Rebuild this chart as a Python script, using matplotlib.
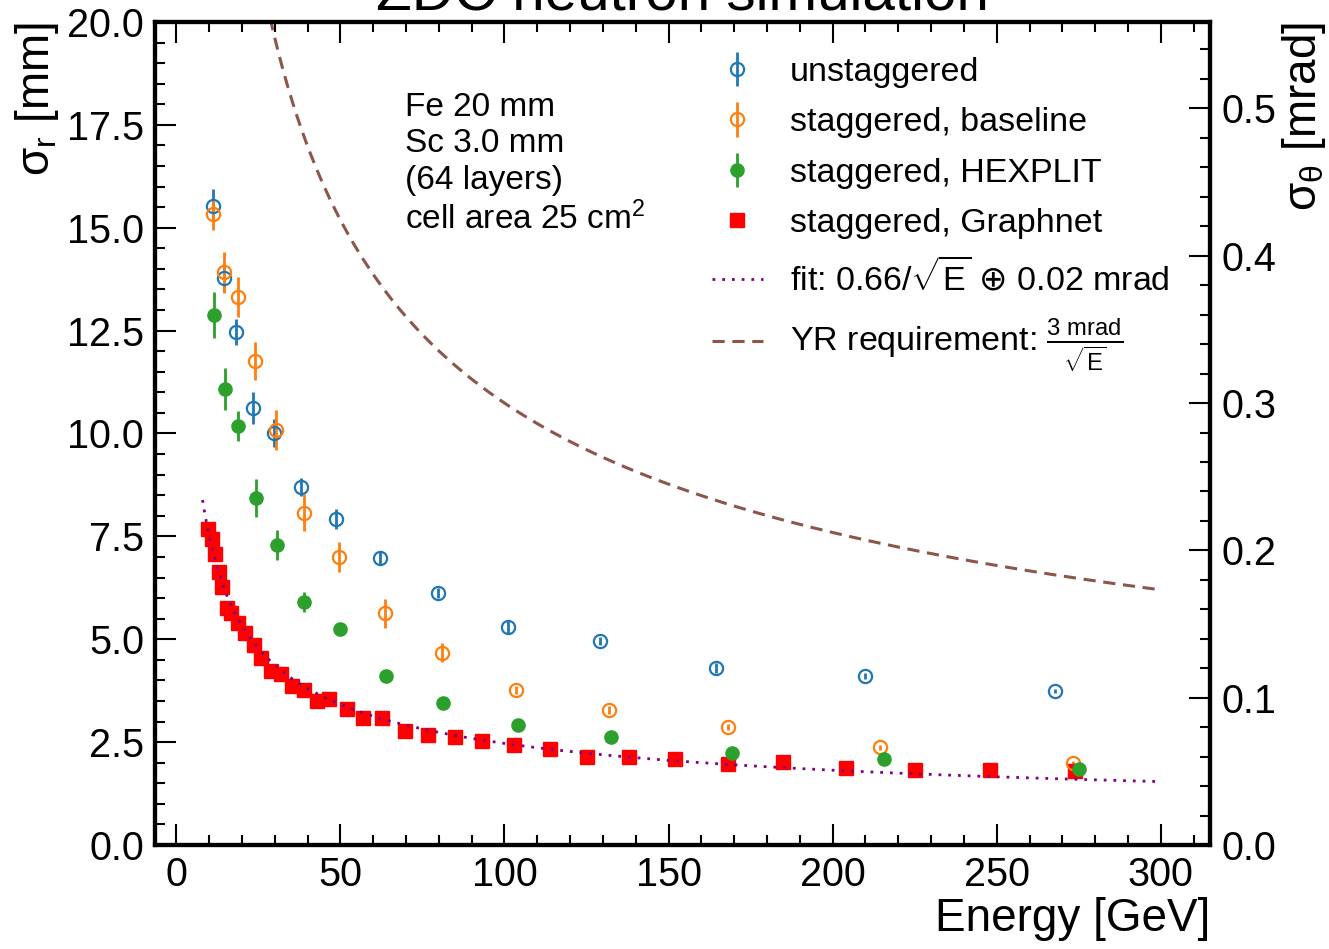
import matplotlib
matplotlib.use("Agg")
import matplotlib.pyplot as plt
from matplotlib.ticker import MultipleLocator
import numpy as np

plt.rcParams['font.family'] = ['Liberation Sans', 'DejaVu Sans']
plt.rcParams['mathtext.fontset'] = 'custom'
plt.rcParams['mathtext.rm'] = 'Liberation Sans'
plt.rcParams['mathtext.it'] = 'Liberation Sans:italic'
plt.rcParams['mathtext.bf'] = 'Liberation Sans:bold'
plt.rcParams['mathtext.sf'] = 'DejaVu Sans'

# distance used to convert sigma_r [mm] -> sigma_theta [mrad]
dist_m = 35.8

# unstaggered
E_unst = [11.3, 14.6, 18.3, 23.5, 29.9, 38.1, 48.8, 62.2, 79.6, 101.2, 129.0, 164.6, 209.8, 267.7]
r_unst = [15.53, 13.78, 12.47, 10.62, 10.01, 8.70, 7.92, 6.97, 6.12, 5.30, 4.96, 4.30, 4.11, 3.74]
e_unst = [0.40, 0.34, 0.32, 0.40, 0.34, 0.22, 0.25, 0.15, 0.12, 0.14, 0.10, 0.12, 0.08, 0.05]

# staggered, baseline
E_base = [11.3, 14.6, 18.9, 24.1, 30.5, 39.0, 49.7, 63.7, 81.1, 103.4, 131.7, 168.0, 214.3, 273.2]
r_base = [15.33, 13.92, 13.32, 11.76, 10.08, 8.07, 7.00, 5.63, 4.67, 3.77, 3.28, 2.87, 2.38, 2.00]
e_base = [0.38, 0.50, 0.49, 0.47, 0.49, 0.45, 0.36, 0.36, 0.23, 0.10, 0.10, 0.08, 0.06, 0.05]

# staggered, HEXPLIT
E_hex = [11.6, 14.9, 18.9, 24.4, 30.8, 39.0, 50.0, 64.0, 81.4, 104.0, 132.6, 169.2, 215.6, 275.0]
r_hex = [12.88, 11.08, 10.18, 8.43, 7.29, 5.91, 5.25, 4.11, 3.45, 2.92, 2.62, 2.23, 2.09, 1.85]
e_hex = [0.55, 0.50, 0.37, 0.47, 0.36, 0.25, 0.12, 0.12, 0.08, 0.06, 0.05, 0.05, 0.04, 0.04]

# staggered, Graphnet
E_gn = [9.8, 11.0, 11.9, 12.9, 14.0, 15.5, 16.8, 18.9, 21.0, 23.8, 25.9, 28.9, 32.0, 35.4,
        38.8, 42.9, 46.6, 52.0, 56.8, 62.8, 69.8, 76.8, 84.8, 93.0, 102.8, 113.8, 125.0,
        138.0, 152.0, 168.0, 185.0, 204.0, 225.0, 247.9, 274.0]
r_gn = [7.68, 7.43, 7.07, 6.64, 6.27, 5.76, 5.63, 5.40, 5.15, 4.86, 4.54, 4.24, 4.15, 3.87,
        3.77, 3.50, 3.55, 3.30, 3.09, 3.09, 2.77, 2.67, 2.63, 2.53, 2.43, 2.33, 2.14,
        2.13, 2.09, 1.97, 2.02, 1.87, 1.82, 1.82, 1.80]

# fit parameters [mrad] and YR requirement [mrad * sqrt(GeV)]
fit_stoch = 0.66
fit_const = 0.02
yr_stoch = 3.0
E_fit = np.linspace(8, 300, 400)
E_yr = np.linspace(20, 300, 400)

fig = plt.figure(figsize=(13.29, 9.49), dpi=100)
ax = fig.add_axes([155/1329, 1-845/949, (1210-155)/1329, (845-22)/949])

h1 = ax.errorbar(E_unst, r_unst, yerr=e_unst, fmt='o', color='#1f77b4', mfc='none', ms=9.5,
                 mew=1.6, elinewidth=2, capsize=0, label='unstaggered')
h2 = ax.errorbar(E_base, r_base, yerr=e_base, fmt='o', color='#ff7f0e', mfc='none', ms=9.5,
                 mew=1.6, elinewidth=2, capsize=0, label='staggered, baseline')
h3 = ax.errorbar(E_hex, r_hex, yerr=e_hex, fmt='o', color='#2ca02c', ms=9.5,
                 elinewidth=2, capsize=0, label='staggered, HEXPLIT')
h4, = ax.plot(E_gn, r_gn, 's', color='red', ms=10, ls='none', label='staggered, Graphnet')

fit_mrad = np.sqrt((fit_stoch/np.sqrt(E_fit))**2 + fit_const**2)
h5, = ax.plot(E_fit, fit_mrad*dist_m, color='purple', lw=2, ls=(0, (1, 2.5)),
              label=r'fit: 0.66/$\sqrt{\mathrm{E}}$ $\mathsf{\oplus}$ 0.02 mrad')
yr_mrad = yr_stoch/np.sqrt(E_yr)
h6, = ax.plot(E_yr, yr_mrad*dist_m, color='#8c564b', lw=2.2, ls=(0, (4, 2.5)),
              label=r'YR requirement: $\frac{3\ \mathrm{mrad}}{\sqrt{\mathrm{E}}}$')

ax.set_xlim(-6.5, 315)
ax.set_ylim(0, 20)

ax.text(0.237, 0.915, "Fe 20 mm\nSc 3.0 mm\n(64 layers)\ncell area 25 cm$^2$",
        transform=ax.transAxes, ha='left', va='top', fontsize=24, linespacing=1.22)

leg = ax.legend(handles=[h1, h2, h3, h4, h5, h6], loc='upper left',
                bbox_to_anchor=(0.515, 0.974), frameon=False,
                fontsize=24.5, handlelength=1.5, handletextpad=0.8, labelspacing=0.57,
                borderaxespad=0)

ax.set_xlabel('Energy [GeV]', fontsize=33, loc='right', labelpad=2)
ax.set_ylabel(r'σ$_\mathrm{r}$ [mm]', fontsize=33, loc='top', labelpad=4)

ax.xaxis.set_major_locator(MultipleLocator(50))
ax.xaxis.set_minor_locator(MultipleLocator(10))
ax.yaxis.set_major_locator(MultipleLocator(2.5))
ax.yaxis.set_minor_locator(MultipleLocator(0.5))
ax.tick_params(which='both', direction='in', top=True, right=False, labelsize=28.5, width=1.5)
ax.tick_params(which='major', length=15, pad=8)
ax.tick_params(which='minor', length=7.5)

ax2 = ax.twinx()
ax2.set_ylim(0, 20/dist_m)
ax2.yaxis.set_major_locator(MultipleLocator(0.1))
ax2.yaxis.set_minor_locator(MultipleLocator(0.02))
ax2.yaxis.set_major_formatter(matplotlib.ticker.FormatStrFormatter('%.1f'))
ax2.tick_params(which='both', direction='in', labelsize=28.5, width=1.5)
ax2.tick_params(which='major', length=15, pad=8)
ax2.tick_params(which='minor', length=7.5)
ax2.set_ylabel('σ$_\\mathrm{θ}$ [mrad]', fontsize=33, loc='top', labelpad=3)

for a in (ax, ax2):
    for s in a.spines.values():
        s.set_linewidth(3)

fig.text(682/1329, 1-10/949, 'ZDC neutron simulation', ha='center', va='baseline', fontsize=42)

fig.savefig('out.png', dpi=100)
